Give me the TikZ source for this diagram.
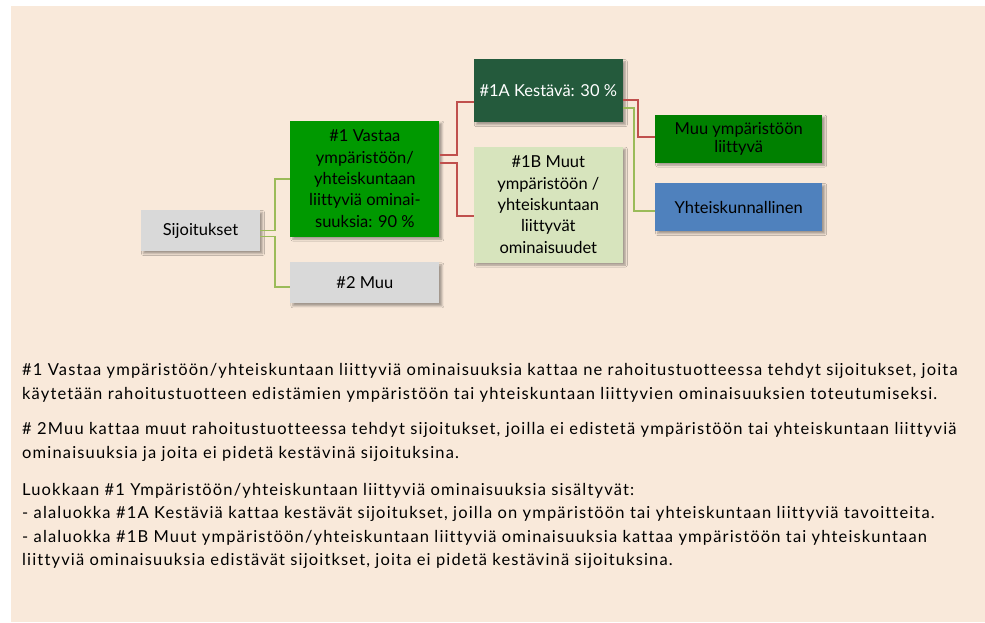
\documentclass[tikz,border=0pt]{standalone}
\usepackage{fontspec}
\setmainfont[Ligatures=NoCommon]{Lato}
\newfontfamily\parafont[LetterSpace=7,Ligatures=NoCommon]{Lato}
\usetikzlibrary{positioning,shadows.blur}

\definecolor{bgbeige}{HTML}{F9E9DA}
\definecolor{boxgrey}{HTML}{D9D9D9}
\definecolor{brightgreen}{HTML}{009900}
\definecolor{forestgreen}{HTML}{245A3C}
\definecolor{palegreen}{HTML}{D7E4BD}
\definecolor{midgreen}{HTML}{008000}
\definecolor{steelblue}{HTML}{4F81BD}
\definecolor{linered}{HTML}{C0504D}
\definecolor{linegreen}{HTML}{9BBB59}

\begin{document}
\begin{tikzpicture}[
                    x=1pt,
                    y=-1pt,
                    box/.style={align=center, inner sep=2pt,
                        font=\fontsize{16.5}{21.4}\selectfont,
                        blur shadow={shadow xshift=2.5pt, shadow yshift=-2.5pt,
                            shadow blur radius=2pt, shadow opacity=35}},
                    greybox/.style={box, fill=boxgrey, minimum width=149pt, minimum height=41pt},
                    greenbox/.style={box, fill=brightgreen, minimum width=149pt, minimum height=116pt},
                    darkbox/.style={box, fill=forestgreen, text=white, minimum width=149pt, minimum height=63pt},
                    palebox/.style={box, fill=palegreen, minimum width=149pt, minimum height=116pt},
                    sidebox/.style={box, minimum width=167pt, minimum height=48pt},
                    redline/.style={draw=linered, line width=1.8pt},
                    greenline/.style={draw=linegreen, line width=1.8pt},
                    para/.style={anchor=base west, align=left, inner sep=0pt,
                        font=\parafont\fontsize{16.5}{23.4}\selectfont}
                ]
                \useasboundingbox (0,0) rectangle (985,622);
                \fill[bgbeige] (11,6) rectangle (985,622);

                \node (sij) [greybox, minimum width=119pt] at (200.5,230.5) {Sijoitukset};
                \node (v1) [greenbox, above right=-27pt and 30pt of sij]
                    {\#1 Vastaa\\ympäristöön/\\yhteiskuntaan\\liittyviä ominai-\\suuksia: 90 \%};
                \node (muu2) [greybox, below right=11pt and 30pt of sij] {\#2 Muu};
                \node (k1a) [darkbox, above right=-2pt and 34pt of v1] {\#1A Kestävä: 30 \%};
                \node (m1b) [palebox, below=24pt of k1a]
                    {\#1B Muut\\ympäristöön /\\yhteiskuntaan\\liittyvät\\ominaisuudet};
                \node (ymp) [sidebox, fill=midgreen, font=\fontsize{16.5}{18}\selectfont,
                    below right=-8pt and 32pt of k1a] {Muu ympäristöön\\liittyvä};
                \node (yht) [sidebox, fill=steelblue, below=20pt of ymp] {Yhteiskunnallinen};

                \draw[greenline] (sij.east) -- ++(15,0) |- (v1.west);
                \draw[greenline] ([yshift=-6pt]sij.east) -- ++(15,0) |- ([yshift=-4pt]muu2.west);
                \draw[redline] ([yshift=24pt]v1.east) -- ++(17,0) |- ([yshift=-11pt]k1a.west);
                \draw[redline] ([yshift=16pt]v1.east) -- ++(17,0) |- ([yshift=-11pt]m1b.west);
                \draw[redline] ([yshift=-9.5pt]k1a.east) -- ++(15,0) |- ([yshift=2pt]ymp.west);
                \draw[greenline] ([yshift=-17.5pt]k1a.east) -- ++(11,0) |- ([yshift=-4pt]yht.west);

                \node (txta) [para] at (22,399.3)
                    {\#1 Vastaa ympäristöön/yhteiskuntaan liittyviä ominaisuuksia kattaa ne rahoitustuotteessa tehdyt sijoitukset, joita\\
                     käytetään rahoitustuotteen edistämien ympäristöön tai yhteiskuntaan liittyvien ominaisuuksien toteutumiseksi.};
                \node (txtb) [para] at (22,458.3)
                    {\# 2Muu kattaa muut rahoitustuotteessa tehdyt sijoitukset, joilla ei edistetä ympäristöön tai yhteiskuntaan liittyviä\\
                     ominaisuuksia ja joita ei pidetä kestävinä sijoituksina.};
                \node (txtc) [para] at (22,565.7)
                    {Luokkaan \#1 Ympäristöön/yhteiskuntaan liittyviä ominaisuuksia sisältyvät:\\
                     - alaluokka \#1A Kestäviä kattaa kestävät sijoitukset, joilla on ympäristöön tai yhteiskuntaan liittyviä tavoitteita.\\
                     - alaluokka \#1B Muut ympäristöön/yhteiskuntaan liittyviä ominaisuuksia kattaa ympäristöön tai yhteiskuntaan\\
                     liittyviä ominaisuuksia edistävät sijoitkset, joita ei pidetä kestävinä sijoituksina.};
            \end{tikzpicture}
\end{document}
